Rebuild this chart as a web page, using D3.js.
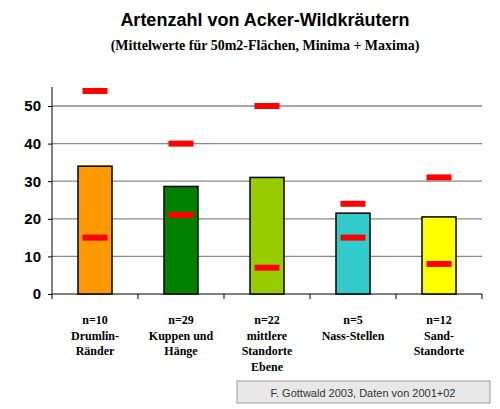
<!DOCTYPE html>
<html><head><meta charset="utf-8">
<script src="https://cdn.jsdelivr.net/npm/d3@7"></script>
<style>body{margin:0;background:#fff}</style>
</head><body><svg width="500" height="409"></svg>
<script>
const labels = [["n=10","Drumlin-","Ränder"],["n=29","Kuppen und","Hänge"],["n=22","mittlere","Standorte","Ebene"],["n=5","Nass-Stellen"],["n=12","Sand-","Standorte"]];
const means = [34, 28.6, 31, 21.5, 20.5];
const minima = [15, 21, 7, 15, 8];
const maxima = [54, 40, 50, 24, 31];
const colors = ["#ff9900","#008000","#99cc00","#33cccc","#ffff00"];
const yTicks = [0,10,20,30,40,50];

const svg = d3.select("svg");
const plotLeft = 52, plotRight = 482, plotTop = 87, plotBottom = 294;
const x = d3.scaleBand().domain(d3.range(5)).range([plotLeft, plotRight]);
const y = d3.scaleLinear().domain([0, 55]).range([plotBottom, plotBottom - 55*3.76]);

svg.append("text").attr("x", 265).attr("y", 26).attr("text-anchor","middle")
  .style("font","bold 18px Arial, 'Liberation Sans'").text("Artenzahl von Acker-Wildkräutern");
svg.append("text").attr("x", 265).attr("y", 50).attr("text-anchor","middle")
  .style("font","bold 14px 'Liberation Serif', serif").text("(Mittelwerte für 50m2-Flächen, Minima + Maxima)");

// gridlines
svg.selectAll(".grid").data(yTicks.slice(1)).enter().append("line")
  .attr("x1", plotLeft).attr("x2", plotRight).attr("y1", d => y(d)).attr("y2", d => y(d))
  .attr("stroke", "#888").attr("stroke-width", 1.3);

const yAxis = svg.append("g").attr("transform", `translate(${plotLeft},0)`)
  .call(d3.axisLeft(y).tickValues(yTicks).tickSize(4).tickSizeOuter(0));
yAxis.select(".domain").attr("d", `M0,${plotTop}V${plotBottom}`);
yAxis.selectAll("text").style("font","bold 15px Arial, 'Liberation Sans'").attr("fill","#000").attr("dx", -4);

svg.append("line").attr("x1", plotLeft).attr("x2", plotRight).attr("y1", plotBottom).attr("y2", plotBottom).attr("stroke","#000");
svg.selectAll(".xt").data(d3.range(6)).enter().append("line")
  .attr("x1", d => plotLeft + d*x.step()).attr("x2", d => plotLeft + d*x.step())
  .attr("y1", plotBottom).attr("y2", plotBottom + 5).attr("stroke", "#000");

const bw = 34;
svg.selectAll(".bar").data(means).enter().append("rect")
  .attr("x", (d,i) => x(i) + x.bandwidth()/2 - bw/2).attr("width", bw)
  .attr("y", d => y(d)).attr("height", d => plotBottom - y(d))
  .attr("fill", (d,i) => colors[i]).attr("stroke", "#000").attr("stroke-width", 1.5);

const mw = 25;
[minima, maxima].forEach(arr => {
  svg.selectAll(null).data(arr).enter().append("rect")
    .attr("x", (d,i) => x(i) + x.bandwidth()/2 - mw/2).attr("width", mw)
    .attr("y", d => y(d) - 3).attr("height", 6).attr("fill", "#ff0000");
});

labels.forEach((lines, i) => {
  const t = svg.append("text").attr("text-anchor","middle")
    .style("font","bold 12px 'Liberation Serif', serif");
  lines.forEach((l, j) => t.append("tspan").attr("x", x(i) + x.bandwidth()/2).attr("y", 324 + j*15.5).text(l));
});

svg.append("rect").attr("x", 237).attr("y", 381).attr("width", 253).attr("height", 22)
  .attr("fill", "#e8e8e8").attr("stroke", "#999");
svg.append("text").attr("x", 363).attr("y", 397).attr("text-anchor","middle")
  .style("font","11px Arial, 'Liberation Sans'").attr("fill","#333").text("F. Gottwald 2003, Daten von 2001+02");
</script></body></html>
